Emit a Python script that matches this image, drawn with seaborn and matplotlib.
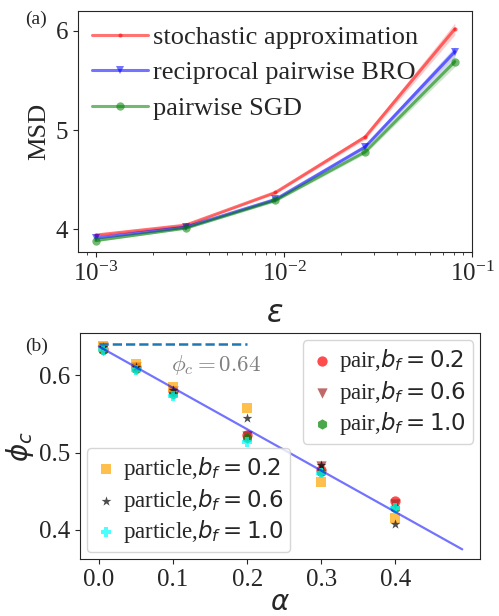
import matplotlib
matplotlib.use('Agg')
import matplotlib.pyplot as plt
import numpy as np
import pandas as pd
import seaborn as sns

# panel (a): MSD vs epsilon
eps = [0.001, 0.003, 0.009, 0.027, 0.081]
msd_sa = [3.94, 4.04, 4.37, 4.93, 6.02]
msd_bro = [3.91, 4.02, 4.30, 4.83, 5.79]
msd_sgd = [3.885, 4.01, 4.29, 4.78, 5.69]
err_sa = [0.01, 0.01, 0.015, 0.025, 0.06]
err_bro = [0.01, 0.01, 0.015, 0.02, 0.05]
err_sgd = [0.01, 0.01, 0.015, 0.02, 0.05]

# panel (b): phi_c vs alpha
alpha = [0.005, 0.05, 0.1, 0.2, 0.3, 0.4]
pair_02 = [0.634, 0.610, 0.579, 0.522, 0.478, 0.437]
pair_06 = [0.636, 0.611, 0.580, 0.521, 0.482, 0.433]
pair_10 = [0.633, 0.608, 0.576, 0.519, 0.475, 0.428]
particle_02 = [0.637, 0.614, 0.584, 0.558, 0.462, 0.416]
particle_06 = [0.636, 0.611, 0.581, 0.544, 0.484, 0.408]
particle_10 = [0.632, 0.606, 0.573, 0.514, 0.474, 0.428]
fit_alpha = [0.0, 0.49]
fit_phi = [0.637, 0.375]
phi_c = 0.64

sns.set_style('ticks')
plt.rcParams['font.family'] = ['Liberation Serif', 'DejaVu Serif']
plt.rcParams['mathtext.fontset'] = 'dejavusans'

fig = plt.figure(figsize=(4.99, 6.16), dpi=100)
ax_a = fig.add_axes([0.156, 0.591, 0.790, 0.391])
ax_b = fig.add_axes([0.160, 0.0925, 0.802, 0.3665])

# ---- panel (a)
series_a = [
    ('stochastic approximation', msd_sa, err_sa, 'red', '.'),
    ('reciprocal pairwise BRO', msd_bro, err_bro, 'blue', 'v'),
    ('pairwise SGD', msd_sgd, err_sgd, 'green', 'o'),
]
for label, y, err, color, marker in series_a:
    df = pd.DataFrame({'eps': eps, 'msd': y})
    sns.lineplot(ax=ax_a, data=df, x='eps', y='msd', color=color,
                 marker=marker, markersize=6, markeredgewidth=0,
                 linewidth=2.2, alpha=0.55, label=label)
    lo = np.array(y) - np.array(err)
    hi = np.array(y) + np.array(err)
    ax_a.fill_between(eps, lo, hi, color=color, alpha=0.2, linewidth=0)

ax_a.set_xscale('log')
ax_a.set_xlim(10 ** -3.096, 0.1)
ax_a.set_ylim(3.77, 6.2)
ax_a.set_yticks([4, 5, 6])
ax_a.set_xlabel(r'$\varepsilon$', fontsize=22, labelpad=10)
ax_a.set_ylabel('MSD', fontsize=19, labelpad=4)
ax_a.tick_params(labelsize=18)
ax_a.legend(loc='upper left', frameon=False, fontsize=19,
            handlelength=2.1, borderaxespad=0.3, labelspacing=0.45,
            handletextpad=0.2, borderpad=0.25)

# ---- panel (b)
series_b = [
    ('pair,$b_f = 0.2$', pair_02, 'red', 'o'),
    ('pair,$b_f = 0.6$', pair_06, 'brown', 'v'),
    ('pair,$b_f = 1.0$', pair_10, 'green', 'h'),
    ('particle,$b_f = 0.2$', particle_02, 'orange', 's'),
    ('particle,$b_f = 0.6$', particle_06, 'black', '*'),
    ('particle,$b_f = 1.0$', particle_10, 'cyan', 'P'),
]
handles = []
for label, y, color, marker in series_b:
    df = pd.DataFrame({'alpha': alpha, 'phi': y})
    sns.scatterplot(ax=ax_b, data=df, x='alpha', y='phi', color=color,
                    marker=marker, s=55, alpha=0.7, linewidth=0,
                    label=label, legend=False)
    handles.append(ax_b.collections[-1])

sns.lineplot(ax=ax_b, x=fit_alpha, y=fit_phi, color='blue', alpha=0.55,
             linewidth=1.6)
ax_b.plot([0.0, 0.2], [phi_c, phi_c], linestyle='--', color='#1f77b4',
          linewidth=1.8)
ax_b.text(0.097, 0.613, r'$\phi_c = 0.64$', fontsize=16.5, color='gray',
          math_fontfamily='cm', va='center')

ax_b.set_xlim(-0.0256, 0.514)
ax_b.set_ylim(0.3625, 0.654)
ax_b.set_xticks([0.0, 0.1, 0.2, 0.3, 0.4])
ax_b.set_yticks([0.4, 0.5, 0.6])
ax_b.set_xlabel(r'$\alpha$', fontsize=20, labelpad=0)
ax_b.set_ylabel(r'$\phi_c$', fontsize=20, labelpad=2)
ax_b.tick_params(labelsize=18)

leg_kw = dict(fontsize=16.5, handletextpad=0.2, handlelength=1.1,
              borderaxespad=0.3, labelspacing=0.2, borderpad=0.3)
leg1 = ax_b.legend(handles=handles[:3], labels=[s[0] for s in series_b[:3]],
                   loc='upper right', **leg_kw)
ax_b.add_artist(leg1)
ax_b.legend(handles=handles[3:], labels=[s[0] for s in series_b[3:]],
            loc='lower left', **leg_kw)

fig.text(0.05, 0.968, '(a)', fontsize=14, ha='left', va='center')
fig.text(0.05, 0.437, '(b)', fontsize=14, ha='left', va='center')

fig.savefig('out.png', dpi=100)
plt.close(fig)
